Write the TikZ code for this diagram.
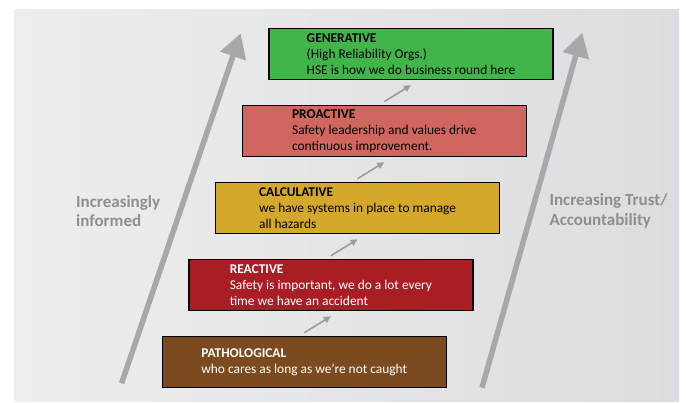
\documentclass[tikz,border=0pt]{standalone}
\usepackage{fontspec}
\setmainfont{Carlito}
\usepackage{tikz}
\usetikzlibrary{arrows.meta,positioning,shapes}

\definecolor{bgleft}{HTML}{EEEEEF}
\definecolor{bgright}{HTML}{DCDDE0}
\definecolor{pathbrown}{HTML}{7B4A1E}
\definecolor{reactred}{HTML}{A91D25}
\definecolor{calcgold}{HTML}{D4A82B}
\definecolor{proactred}{HTML}{D0665F}
\definecolor{gengreen}{HTML}{41B54A}
\definecolor{stairgray}{HTML}{9C9C9C}
\definecolor{trendgray}{HTML}{A8A8A8}
\definecolor{labelgray}{HTML}{8E8E8E}

\begin{document}
\begin{tikzpicture}[x=1pt,y=-1pt,
        font=\fontsize{13.4}{15.7}\selectfont,
        level/.style={draw,
        line width=1.3pt,
        minimum width=284pt,
        minimum height=51pt,
        inner ysep=1pt,
        align=left},
        stair/.style={draw=stairgray,
        line width=1.6pt,
        -{Triangle[length=7pt,width=6.5pt]}},
        trend/.style={draw=trendgray,
        line width=5.5pt,
        -{Triangle[length=24pt,width=26pt]}},
        side/.style={text=labelgray,
        font=\fontsize{17}{19.3}\selectfont\bfseries,
        inner sep=0,
        anchor=west,
        align=left}]

        \useasboundingbox (0,0) rectangle (686,403);
        \shade[left color=bgleft, right color=bgright] (14,10) rectangle (679,402);

        % Bottom step
        \node[level,
        fill=pathbrown,
        text=white] (pathological) at (304.2,362.2)
        {\textbf{PATHOLOGICAL}\\who cares as long as we’re not caught};

        \node[level,
        fill=reactred,
        text=white,
        above=24.75pt of pathological,
        xshift=26.7pt] (reactive)
        {\textbf{REACTIVE}\\Safety is important, we do a lot every\\time we have an accident};

        \node[level,
        fill=calcgold,
        above=24.75pt of reactive,
        xshift=26.7pt] (calculative)
        {\textbf{CALCULATIVE}\\we have systems in place to manage\\all hazards};

        \node[level,
        fill=proactred,
        above=24.75pt of calculative,
        xshift=26.7pt] (proactive)
        {\textbf{PROACTIVE}\\Safety leadership and values drive\\continuous improvement.};

        % Top step
        \node[level,
        fill=gengreen,
        above=24.75pt of proactive,
        xshift=26.7pt] (generative)
        {\textbf{GENERATIVE}\\(High Reliability Orgs.)\\HSE is how we do business round here};

        % Side labels
        \node[side] (informed) at (76,211) {Increasingly\\informed};
        \node[side] (trust) at (549.3,211) {Increasing Trust/\\Accountability};

        % Long arrows
        \coordinate (leftfoot) at (121.6,383.3);
        \coordinate (lefttip) at (240.7,33.3);
        \coordinate (rightfoot) at (482,387.7);
        \coordinate (righttip) at (582.3,32.7);
        \draw[trend] (leftfoot) -- (lefttip);
        \draw[trend] (rightfoot) -- (righttip);

        % Step arrows
        \draw[stair] ([yshift=3.3pt]pathological.north) -- ([yshift=-5pt]reactive.south);
        \draw[stair] ([yshift=3.3pt]reactive.north) -- ([yshift=-5pt]calculative.south);
        \draw[stair] ([yshift=3.3pt]calculative.north) -- ([yshift=-5pt]proactive.south);
        \draw[stair] ([yshift=3.3pt]proactive.north) -- ([yshift=-5pt]generative.south);
    \end{tikzpicture}
\end{document}
